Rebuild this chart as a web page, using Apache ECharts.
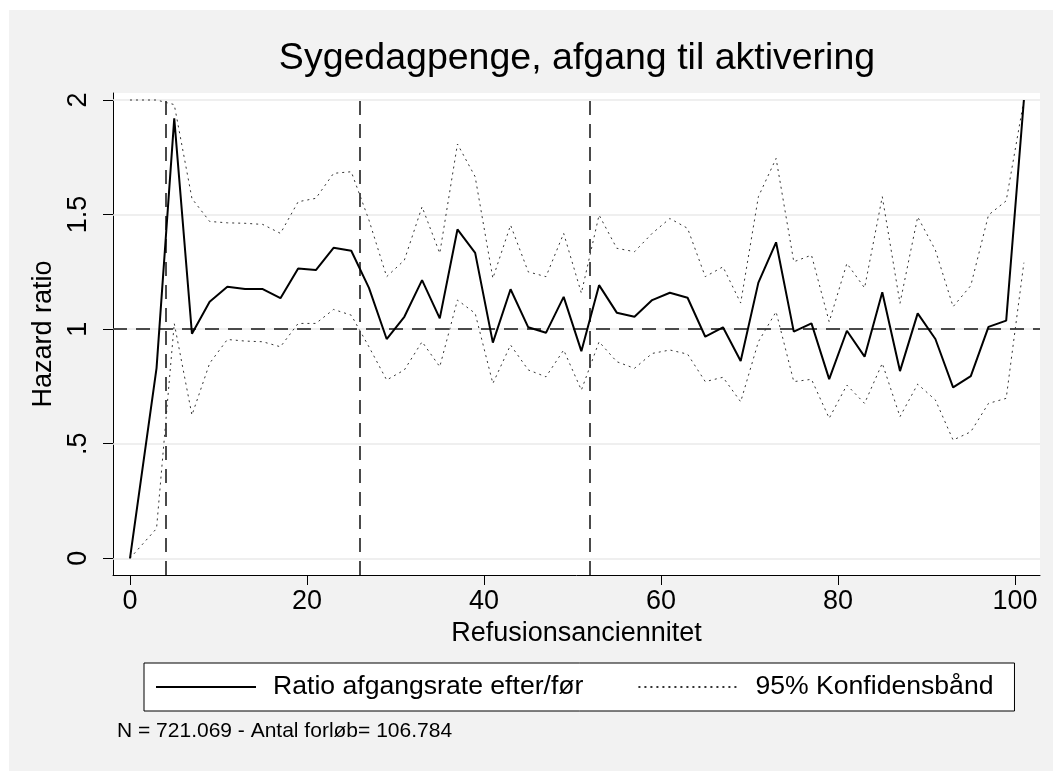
<!DOCTYPE html>
<html>
<head>
<meta charset="utf-8">
<script src="https://cdn.jsdelivr.net/npm/echarts@6/dist/echarts.min.js"></script>
<style>
  html, body { margin: 0; padding: 0; background: #fff; }
  #chart { width: 1053px; height: 771px; }
</style>
</head>
<body>
<div id="chart"></div>
<script>
const FONT = "'Liberation Sans', Arial, sans-serif"

// Refusionsanciennitet (x positions of the estimates)
const weeks = [0, 3, 5, 7, 9, 11, 13, 15, 17, 19, 21, 23, 25, 27, 29, 31, 33, 35, 37, 39,
  41, 43, 45, 47, 49, 51, 53, 55, 57, 59, 61, 63, 65, 67, 69, 71, 73, 75, 77, 79,
  81, 83, 85, 87, 89, 91, 93, 95, 97, 99, 101]

// Ratio afgangsrate efter/før
const ratio = [0, 0.83, 1.92, 0.98, 1.12, 1.185, 1.175, 1.175, 1.135, 1.265, 1.258, 1.355, 1.342, 1.18, 0.957, 1.054, 1.214, 1.047, 1.435, 1.333,
  0.941, 1.174, 1.008, 0.984, 1.141, 0.904, 1.192, 1.072, 1.054, 1.127, 1.159, 1.137, 0.967, 1.008, 0.861, 1.203, 1.379, 0.989, 1.025, 0.782,
  0.993, 0.88, 1.161, 0.817, 1.069, 0.957, 0.746, 0.795, 1.01, 1.037, 2.0]

// 95% konfidensbånd
const upper = [2.0, 2.0, 1.98, 1.57, 1.47, 1.464, 1.462, 1.457, 1.418, 1.556, 1.571, 1.68, 1.687, 1.476, 1.229, 1.301, 1.534, 1.331, 1.808, 1.665,
  1.222, 1.454, 1.25, 1.229, 1.418, 1.157, 1.498, 1.353, 1.338, 1.418, 1.483, 1.44, 1.229, 1.272, 1.114, 1.578, 1.745, 1.294, 1.323, 1.032,
  1.287, 1.18, 1.578, 1.113, 1.49, 1.345, 1.098, 1.19, 1.498, 1.56, 2.0]
const lower = [0, 0.13, 1.025, 0.625, 0.851, 0.955, 0.948, 0.945, 0.923, 1.025, 1.025, 1.086, 1.061, 0.923, 0.778, 0.822, 0.945, 0.836, 1.127, 1.069,
  0.763, 0.931, 0.822, 0.792, 0.909, 0.734, 0.945, 0.858, 0.829, 0.894, 0.909, 0.891, 0.771, 0.79, 0.683, 0.945, 1.076, 0.771, 0.781, 0.611,
  0.756, 0.676, 0.851, 0.618, 0.76, 0.691, 0.516, 0.552, 0.676, 0.698, 1.29]

const xTicks = [0, 20, 40, 60, 80, 100]
const yTicks = [0, 0.5, 1, 1.5, 2]
const yTickLabels = ['0', '.5', '1', '1.5', '2']
const refX = [4, 26, 52]
const refY = [1]

const pairs = (vals) => weeks.map((w, i) => [w, vals[i]])

const chart = echarts.init(document.getElementById('chart'))

chart.setOption({
  animation: false,
  backgroundColor: '#f2f2f2',
  textStyle: { fontFamily: FONT },
  graphic: [
    { type: 'rect', shape: { x: 0, y: 0, width: 9, height: 771 }, style: { fill: '#fff' }, silent: true },
    { type: 'rect', shape: { x: 0, y: 0, width: 1053, height: 10 }, style: { fill: '#fff' }, silent: true },
  ],
  title: [
    {
      text: 'Sygedagpenge, afgang til aktivering',
      left: 577,
      top: 40,
      textAlign: 'center',
      padding: 0,
      textStyle: { fontFamily: FONT, fontSize: 37.5, fontWeight: 'normal', color: '#000' },
    },
    {
      text: 'N = 721.069 - Antal forløb= 106.784',
      left: 117,
      top: 721,
      padding: 0,
      textStyle: { fontFamily: FONT, fontSize: 21, fontWeight: 'normal', color: '#000' },
    },
  ],
  legend: {
    data: ['Ratio afgangsrate efter/før', '95% Konfidensbånd'],
    left: 144,
    top: 663,
    padding: [10, 21, 10, 11],
    itemGap: 54,
    itemWidth: 100,
    itemHeight: 14,
    backgroundColor: '#fff',
    borderColor: '#000',
    borderWidth: 1,
    borderRadius: 0,
    selectedMode: false,
    itemStyle: { opacity: 0 },
    textStyle: { fontFamily: FONT, fontSize: 26.6, lineHeight: 28, color: '#000', padding: [0, 0, 0, 12] },
  },
  grid: {
    left: 113,
    right: 13,
    top: 93,
    bottom: 196,
    show: true,
    backgroundColor: '#fff',
    borderWidth: 0,
  },
  xAxis: {
    type: 'value',
    min: -1.92,
    max: 102.82,
    name: 'Refusionsanciennitet',
    nameLocation: 'middle',
    nameGap: 42,
    nameTextStyle: { fontFamily: FONT, fontSize: 27, color: '#000' },
    axisLine: { onZero: false, lineStyle: { color: '#000', width: 1 } },
    axisTick: { customValues: xTicks, length: 10, lineStyle: { color: '#000', width: 1 } },
    axisLabel: { customValues: xTicks, fontSize: 27, color: '#000', margin: 13, fontFamily: FONT },
    splitLine: { show: false },
  },
  yAxis: {
    type: 'value',
    min: -0.0729,
    max: 2.0306,
    name: 'Hazard ratio',
    nameLocation: 'middle',
    nameRotate: 90,
    nameGap: 51,
    nameTextStyle: { fontFamily: FONT, fontSize: 27, color: '#000' },
    axisLine: { show: true, onZero: false, lineStyle: { color: '#000', width: 1 } },
    axisTick: { customValues: yTicks, length: 10, lineStyle: { color: '#000', width: 1 } },
    axisLabel: {
      customValues: yTicks,
      rotate: 90,
      fontSize: 27,
      color: '#000',
      margin: 21,
      fontFamily: FONT,
      formatter: (v) => yTickLabels[yTicks.indexOf(v)] ?? String(v),
    },
    splitLine: { show: false },
  },
  series: [
    {
      name: '95% Konfidensbånd',
      type: 'line',
      data: pairs(lower),
      symbol: 'none',
      z: 3,
      lineStyle: { color: '#333', width: 1, type: [2, 4] },
      markLine: {
        silent: true,
        symbol: 'none',
        z: 1,
        label: { show: false },
        lineStyle: { color: '#eaeaea', width: 1.5, type: 'solid' },
        data: yTicks.map((v) => ({ yAxis: v })),
      },
    },
    {
      name: '95% Konfidensbånd',
      type: 'line',
      data: pairs(upper),
      symbol: 'none',
      z: 3,
      lineStyle: { color: '#333', width: 1, type: [2, 4] },
      markLine: {
        silent: true,
        symbol: 'none',
        z: 2,
        label: { show: false },
        lineStyle: { color: '#4a4a4a', width: 2, type: [14, 9] },
        data: [...refX.map((v) => ({ xAxis: v })), ...refY.map((v) => ({ yAxis: v }))],
      },
    },
    {
      name: 'Ratio afgangsrate efter/før',
      type: 'line',
      data: pairs(ratio),
      symbol: 'none',
      z: 4,
      lineStyle: { color: '#000', width: 2 },
    },
  ],
})
</script>
</body>
</html>
